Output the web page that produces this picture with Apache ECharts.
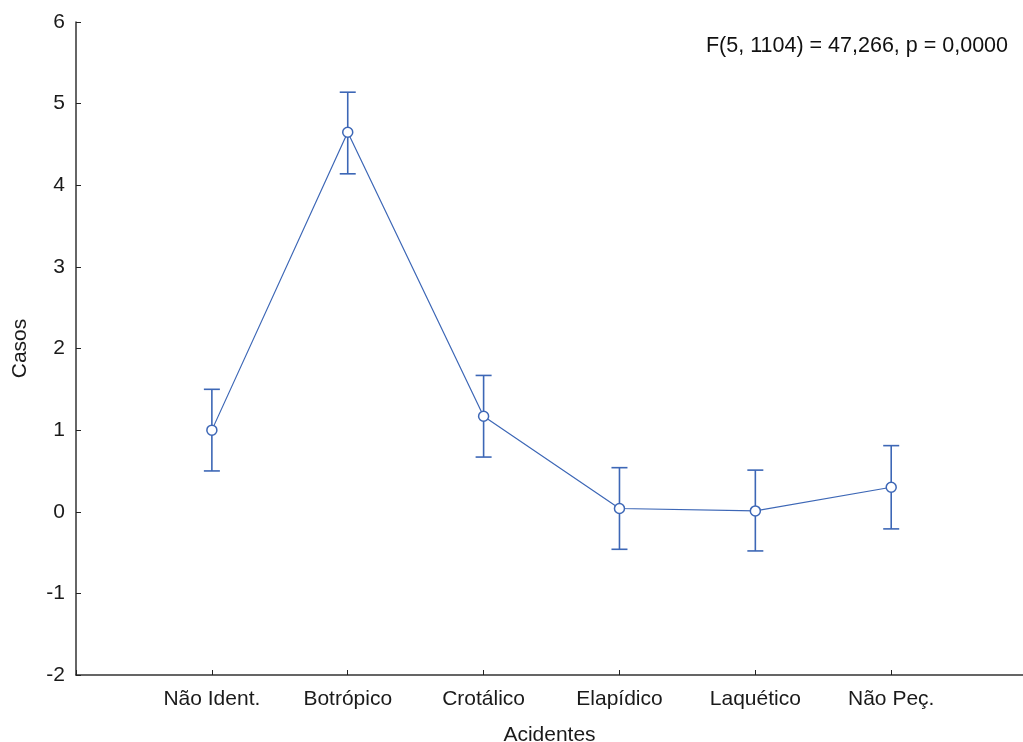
<!DOCTYPE html>
<html>
<head>
<meta charset="utf-8">
<script src="https://cdn.jsdelivr.net/npm/echarts@6/dist/echarts.min.js"></script>
<style>html,body{margin:0;padding:0;background:#fff}#c{width:1023px;height:742px}</style>
</head>
<body>
<div id="c"></div>
<script>
var categories = ['Não Ident.', 'Botrópico', 'Crotálico', 'Elapídico', 'Laquético', 'Não Peç.'];
var means = [1.00, 4.65, 1.17, 0.04, 0.01, 0.30];
var upper = [1.50, 5.14, 1.67, 0.54, 0.51, 0.81];
var lower = [0.50, 4.14, 0.67, -0.46, -0.48, -0.21];
var yTicks = [-2, -1, 0, 1, 2, 3, 4, 5, 6];
var annotation = 'F(5, 1104) = 47,266, p = 0,0000';

var blue = '#3d67b6';
var font = 'Liberation Sans, Arial, sans-serif';

var lineData = categories.map(function (c, i) { return [i + 1, means[i]]; });
var errData = categories.map(function (c, i) { return [i + 1, lower[i], upper[i]]; });

var chart = echarts.init(document.getElementById('c'), null, { renderer: 'canvas' });
chart.setOption({
  animation: false,
  backgroundColor: '#fff',
  grid: { left: 76, right: 0, top: 22, bottom: 67, containLabel: false, outerBoundsMode: 'none' },
  xAxis: {
    type: 'value', min: 0, max: 6.97, interval: 1,
    name: 'Acidentes', nameLocation: 'middle', nameGap: 50,
    nameTextStyle: { fontFamily: font, fontSize: 21, color: '#1a1a1a' },
    axisLine: { show: true, onZero: false, lineStyle: { color: '#333', width: 1.5 } },
    axisTick: { show: true, inside: true, length: 5, lineStyle: { color: '#222' } },
    axisLabel: {
      fontFamily: font, fontSize: 21, color: '#1a1a1a', margin: 14,
      showMaxLabel: false,
      formatter: function (v) { return Number.isInteger(v) && categories[v - 1] ? categories[v - 1] : ''; }
    },
    splitLine: { show: false }
  },
  yAxis: {
    type: 'value', min: yTicks[0], max: yTicks[yTicks.length - 1], interval: 1,
    name: 'Casos', nameLocation: 'middle', nameGap: 45, nameRotate: 90,
    nameTextStyle: { fontFamily: font, fontSize: 21, color: '#1a1a1a' },
    axisLine: { show: true, onZero: false, lineStyle: { color: '#333', width: 1.5 } },
    axisTick: { show: true, inside: true, length: 5, lineStyle: { color: '#222' } },
    axisLabel: { fontFamily: font, fontSize: 21, color: '#1a1a1a', margin: 11 },
    splitLine: { show: false }
  },
  graphic: [{
    type: 'text', right: 15, top: 35,
    style: { text: annotation, font: '21.5px ' + font, fill: '#111' }
  }],
  series: [
    {
      type: 'custom',
      data: errData,
      z: 2,
      renderItem: function (params, api) {
        var x = api.value(0);
        var lo = api.coord([x, api.value(1)]);
        var hi = api.coord([x, api.value(2)]);
        var hw = 8;
        var st = { stroke: blue, lineWidth: 1.6 };
        return {
          type: 'group',
          children: [
            { type: 'line', shape: { x1: lo[0], y1: lo[1], x2: hi[0], y2: hi[1] }, style: st },
            { type: 'line', shape: { x1: lo[0] - hw, y1: lo[1], x2: lo[0] + hw, y2: lo[1] }, style: st },
            { type: 'line', shape: { x1: hi[0] - hw, y1: hi[1], x2: hi[0] + hw, y2: hi[1] }, style: st }
          ]
        };
      }
    },
    {
      type: 'line',
      data: lineData,
      z: 3,
      symbol: 'circle', symbolSize: 10,
      lineStyle: { color: blue, width: 1.2 },
      itemStyle: { color: '#fff', borderColor: blue, borderWidth: 1.5 }
    }
  ]
});
</script>
</body>
</html>
